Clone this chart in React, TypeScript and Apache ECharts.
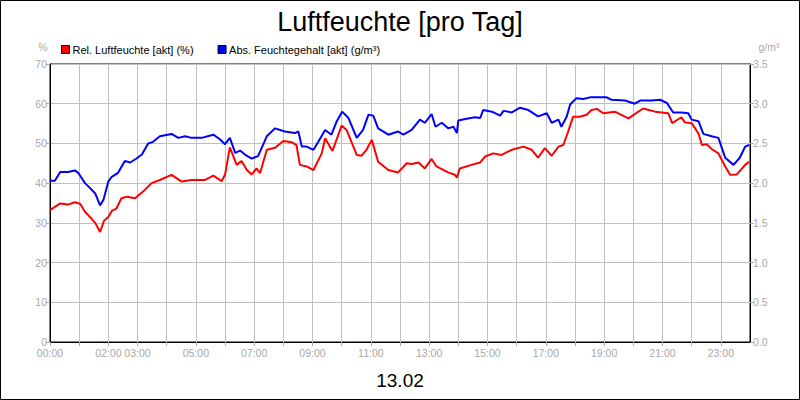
import React, { useEffect, useRef } from "react";
import * as echarts from "echarts";

const TITLE = "Luftfeuchte [pro Tag]";
const DATE_LABEL = "13.02";
const REL_NAME = "Rel. Luftfeuchte [akt] (%)";
const ABS_NAME = "Abs. Feuchtegehalt [akt] (g/m³)";
const X_LABELS = ["00:00", "02:00", "03:00", "05:00", "07:00", "09:00", "11:00", "13:00", "15:00", "17:00", "19:00", "21:00", "23:00"];

// minutes since midnight
const relMinutes = [0, 21, 37, 51, 62, 72, 82, 93, 103, 111, 120, 127, 136, 147, 158, 175, 195, 209, 226, 250, 271, 291, 319, 336, 353, 360, 370, 384, 394, 405, 415, 425, 432, 446, 463, 480, 497, 507, 514, 528, 542, 559, 566, 581, 600, 610, 631, 641, 651, 662, 675, 696, 716, 734, 744, 758, 771, 785, 795, 819, 833, 837, 843, 867, 885, 895, 912, 929, 950, 974, 991, 1004, 1018, 1032, 1046, 1056, 1066, 1076, 1090, 1104, 1114, 1125, 1138, 1162, 1190, 1220, 1245, 1272, 1280, 1299, 1306, 1320, 1334, 1341, 1351, 1361, 1375, 1389, 1399, 1413, 1430, 1438];
const relValues = [33.2, 34.9, 34.6, 35.2, 34.8, 32.8, 31.5, 30.0, 27.7, 30.5, 31.5, 33.0, 33.5, 36.2, 36.6, 36.2, 38.3, 40.0, 40.8, 42.1, 40.4, 40.8, 40.8, 41.9, 40.5, 42.1, 49.0, 44.6, 45.6, 43.3, 42.2, 43.7, 42.5, 48.4, 48.9, 50.6, 50.3, 49.6, 44.6, 44.2, 43.3, 47.5, 51.3, 48.1, 54.5, 53.4, 47.1, 46.9, 48.4, 50.9, 45.4, 43.3, 42.7, 45.0, 44.8, 45.2, 43.7, 46.1, 44.2, 42.7, 42.1, 41.4, 43.7, 44.6, 45.2, 46.7, 47.5, 47.1, 48.4, 49.2, 48.4, 46.4, 48.8, 46.9, 49.2, 49.6, 53.0, 56.7, 56.7, 57.2, 58.4, 58.7, 57.6, 58.0, 56.3, 58.8, 58.0, 57.6, 55.1, 56.6, 55.3, 55.1, 52.5, 49.6, 49.8, 48.6, 47.5, 44.2, 42.1, 42.2, 44.6, 45.4];

const absMinutes = [0, 10, 21, 37, 51, 58, 72, 82, 93, 103, 110, 120, 127, 140, 154, 165, 178, 189, 202, 212, 226, 250, 264, 278, 291, 312, 336, 350, 360, 370, 381, 391, 401, 415, 428, 446, 463, 483, 504, 511, 518, 528, 542, 552, 566, 579, 590, 601, 614, 631, 644, 655, 665, 675, 696, 716, 727, 744, 761, 771, 785, 793, 806, 819, 830, 837, 840, 857, 874, 885, 891, 909, 926, 933, 950, 967, 984, 1004, 1022, 1032, 1046, 1052, 1063, 1070, 1083, 1097, 1111, 1121, 1145, 1155, 1183, 1203, 1214, 1238, 1255, 1269, 1282, 1299, 1313, 1320, 1334, 1344, 1361, 1375, 1389, 1406, 1419, 1430, 1438];
const absValues = [2.03, 2.03, 2.14, 2.14, 2.16, 2.13, 2.0, 1.94, 1.87, 1.72, 1.79, 2.02, 2.08, 2.13, 2.28, 2.26, 2.31, 2.36, 2.5, 2.52, 2.59, 2.62, 2.57, 2.59, 2.57, 2.57, 2.61, 2.55, 2.49, 2.57, 2.38, 2.41, 2.36, 2.31, 2.34, 2.59, 2.69, 2.65, 2.63, 2.65, 2.46, 2.46, 2.42, 2.52, 2.67, 2.61, 2.78, 2.9, 2.82, 2.57, 2.67, 2.86, 2.85, 2.69, 2.61, 2.65, 2.61, 2.67, 2.8, 2.76, 2.87, 2.71, 2.76, 2.69, 2.71, 2.63, 2.79, 2.81, 2.83, 2.82, 2.92, 2.9, 2.85, 2.91, 2.89, 2.95, 2.92, 2.84, 2.88, 2.76, 2.8, 2.71, 2.84, 2.99, 3.07, 3.06, 3.08, 3.08, 3.08, 3.05, 3.04, 3.0, 3.04, 3.04, 3.05, 3.01, 2.89, 2.89, 2.88, 2.8, 2.78, 2.62, 2.59, 2.57, 2.32, 2.23, 2.32, 2.46, 2.48];

const FONT = "Liberation Sans, Arial, sans-serif";
const GRAY = "#a8a8a8";

export default function App() {
  const ref = useRef<HTMLDivElement>(null);
  useEffect(() => {
    document.body.style.margin = "0";
    const chart = echarts.init(ref.current!, null, { renderer: "svg" });
    const fmtTime = (v: number) => {
      const h = Math.floor(v / 60);
      return (h < 10 ? "0" : "") + h + ":00";
    };
    chart.setOption({
      animation: false,
      backgroundColor: "#fff",
      textStyle: { fontFamily: FONT },
      title: {
        text: TITLE,
        left: "center",
        top: 3,
        textStyle: { fontSize: 27, fontWeight: "normal", color: "#000", fontFamily: FONT },
      },
      legend: {
        left: 56,
        top: 39,
        icon: "rect",
        itemWidth: 8,
        itemHeight: 8,
        itemGap: 24,
        textStyle: { fontSize: 11, color: "#000", fontFamily: FONT, padding: [0, 0, 0, -2] },
        itemStyle: { borderColor: "#000", borderWidth: 1 },
        data: [REL_NAME, ABS_NAME],
      },
      grid: {
        left: 50,
        right: 50,
        top: 64,
        bottom: 58,
        show: true,
        borderColor: "#000",
        borderWidth: 1,
        containLabel: false,
      },
      xAxis: {
        type: "value",
        min: 0,
        max: 1440,
        interval: 60,
        axisLine: { show: true, lineStyle: { color: "#000", width: 1 } },
        axisTick: { show: true, length: 4, lineStyle: { color: GRAY } },
        splitLine: { show: true, lineStyle: { color: "#c0c0c0", width: 1 } },
        axisLabel: {
          color: GRAY,
          fontSize: 10.5,
          fontFamily: FONT,
          margin: 5,
          showMaxLabel: false,
          formatter: (v: number) => {
            const s = fmtTime(v);
            return X_LABELS.indexOf(s) >= 0 && v < 1440 ? s : "";
          },
        },
      },
      yAxis: [
        {
          type: "value",
          min: 0,
          max: 70,
          interval: 10,
          axisLine: { show: true, lineStyle: { color: "#000", width: 1 } },
          axisTick: { show: true, length: 4, lineStyle: { color: GRAY } },
          splitLine: { show: true, lineStyle: { color: "#c0c0c0", width: 1 } },
          axisLabel: { color: GRAY, fontSize: 10.5, fontFamily: FONT, margin: 3 },
        },
        {
          type: "value",
          min: 0,
          max: 3.5,
          interval: 0.5,
          position: "right",
          axisLine: { show: true, lineStyle: { color: "#000", width: 1 } },
          axisTick: { show: true, length: 4, lineStyle: { color: GRAY } },
          splitLine: { show: false },
          axisLabel: { color: GRAY, fontSize: 10.5, fontFamily: FONT, margin: 3, formatter: (v: number) => v.toFixed(1) },
        },
      ],
      graphic: [
        {
          type: "rect",
          shape: { x: 0.5, y: 0.5, width: 799, height: 399 },
          style: { fill: "none", stroke: "#000", lineWidth: 1 },
          silent: true,
        },
        {
          type: "text",
          x: 43,
          y: 47,
          style: { text: "%", fill: GRAY, font: `10.5px ${FONT}`, align: "center", verticalAlign: "middle" },
        },
        {
          type: "text",
          x: 769,
          y: 47,
          style: { text: "g/m³", fill: GRAY, font: `10.5px ${FONT}`, align: "center", verticalAlign: "middle" },
        },
        {
          type: "text",
          x: 400,
          y: 380,
          style: { text: DATE_LABEL, fill: "#000", font: `19px ${FONT}`, align: "center", verticalAlign: "middle" },
        },
      ],
      series: [
        {
          name: REL_NAME,
          type: "line",
          yAxisIndex: 0,
          showSymbol: false,
          symbol: "none",
          color: "#ff0000",
          lineStyle: { color: "#ff0000", width: 2 },
          data: relMinutes.map((m, i) => [m, relValues[i]]),
        },
        {
          name: ABS_NAME,
          type: "line",
          yAxisIndex: 1,
          showSymbol: false,
          symbol: "none",
          color: "#0000ff",
          lineStyle: { color: "#0000ff", width: 2 },
          data: absMinutes.map((m, i) => [m, absValues[i]]),
        },
      ],
    });
    return () => chart.dispose();
  }, []);
  return <div ref={ref} style={{ width: 800, height: 400 }} />;
}
